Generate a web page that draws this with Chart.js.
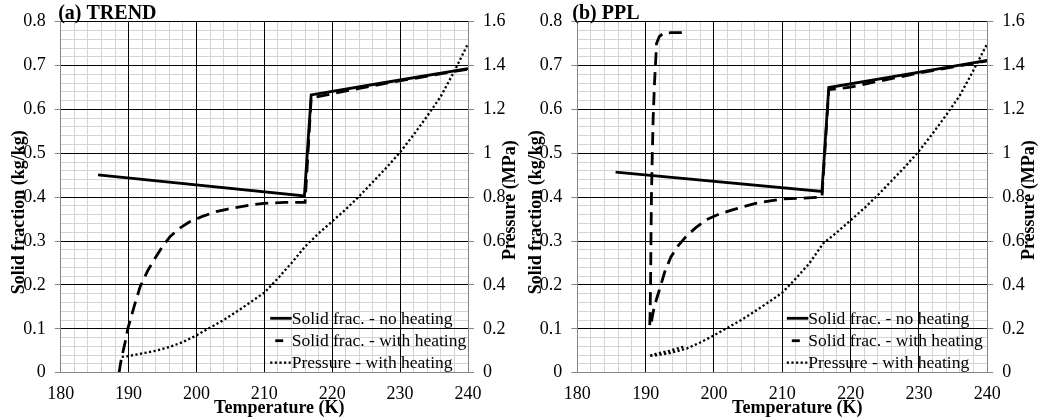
<!DOCTYPE html>
<html>
<head>
<meta charset="utf-8">
<script src="https://cdn.jsdelivr.net/npm/chart.js@4.4.1/dist/chart.umd.min.js"></script>
<style>
  html, body { margin: 0; padding: 0; background: #fff; }
  .panel { position: absolute; top: 0; height: 420px; }
  #panelA { left: 0; width: 519px; }
  #panelB { left: 519px; width: 520px; }
</style>
</head>
<body>
<div class="panel" id="panelA"><canvas id="chartA"></canvas></div>
<div class="panel" id="panelB"><canvas id="chartB"></canvas></div>
<script>
// Solid fraction / pressure vs temperature, two panels (TREND, PPL)
const seriesLabels = ['Solid frac. - no heating', 'Solid frac. - with heating', 'Pressure - with heating'];
const fracTicks = [0, 0.1, 0.2, 0.3, 0.4, 0.5, 0.6, 0.7, 0.8];
const pressTicks = [0, 0.2, 0.4, 0.6, 0.8, 1, 1.2, 1.4, 1.6];
const tempTicks = [180, 190, 200, 210, 220, 230, 240];

// (a) TREND
const trendNoHeatT = [185.5, 215.9, 216.9, 228, 240];
const trendNoHeatFrac = [0.451, 0.403, 0.633, 0.662, 0.693];
const trendHeatT = [188.6, 188.8, 189.0, 189.5, 189.9, 190.8, 191.7, 192.8, 193.9, 195.0, 196.1, 197.5, 199.0,
  201.0, 202.9, 204.6, 206.4, 208.0, 209.9, 213.0, 216.0, 216.9, 220, 224, 228, 240];
const trendHeatFrac = [0.0, 0.02, 0.036, 0.07, 0.101, 0.15, 0.196, 0.232, 0.261, 0.288, 0.31, 0.329, 0.344,
  0.357, 0.367, 0.373, 0.378, 0.382, 0.386, 0.388, 0.388, 0.626, 0.636, 0.648, 0.660, 0.692];
const trendPressT = [189, 190, 192, 194, 196, 198, 200, 202, 204, 206, 208, 210, 212, 214, 216, 218, 220,
  222, 224, 226, 228, 230, 232, 234, 236, 238, 240];
const trendPressMPa = [0.072, 0.076, 0.088, 0.100, 0.117, 0.140, 0.170, 0.205, 0.240, 0.280, 0.322, 0.365,
  0.43, 0.50, 0.575, 0.635, 0.69, 0.745, 0.805, 0.87, 0.935, 1.005, 1.085, 1.17, 1.26, 1.375, 1.50];

// (b) PPL
const pplNoHeatT = [185.6, 215.8, 216.8, 229, 240];
const pplNoHeatFrac = [0.457, 0.413, 0.650, 0.682, 0.712];
const pplHeatT = [195.3, 193.8, 192.6, 192.0, 191.6, 191.5, 191.3, 191.1, 190.95, 190.85, 190.78, 190.72,
  190.65, 190.6, 190.75, 190.95, 191.2, 191.6, 192.0, 192.8, 193.7, 194.8, 195.9, 197.3, 198.8, 200.7,
  202.7, 204.4, 206.1, 208.0, 210.0, 213.0, 215.8, 216.8, 220, 224, 229, 240];
const pplHeatFrac = [0.775, 0.775, 0.774, 0.766, 0.751, 0.72, 0.66, 0.58, 0.48, 0.40, 0.30, 0.20,
  0.13, 0.108, 0.105, 0.125, 0.145, 0.168, 0.188, 0.23, 0.264, 0.29, 0.31, 0.33, 0.348, 0.361,
  0.371, 0.379, 0.386, 0.391, 0.396, 0.398, 0.400, 0.645, 0.651, 0.664, 0.680, 0.711];
const pplPressT = [195.5, 193.5, 191.5, 190.5, 191.5, 193.5, 196, 198, 200, 202, 204, 206, 208, 210, 212,
  214, 216, 218, 220, 222, 224, 226, 228, 230, 232, 234, 236, 238, 240];
const pplPressMPa = [0.118, 0.100, 0.086, 0.076, 0.079, 0.089, 0.110, 0.138, 0.170, 0.205, 0.240, 0.280,
  0.322, 0.365, 0.43, 0.50, 0.59, 0.64, 0.695, 0.75, 0.81, 0.875, 0.94, 1.01, 1.09, 1.175, 1.265, 1.38, 1.50];

const SERIF = '"Liberation Serif", "Times New Roman", serif';
const AXIS_GRAY = '#868686';
const MINOR_GRAY = '#d4d4d4';

function points(xs, ys) {
  return xs.map((x, i) => ({ x: x, y: ys[i] }));
}

function isOnList(v, list) {
  return list.some((t) => Math.abs(t - v) < 1e-6);
}

function fmt(v) {
  return String(+v.toFixed(1));
}

const lineStyles = [
  { borderWidth: 2.8, borderDash: [] },
  { borderWidth: 2.8, borderDash: [13, 7] },
  { borderWidth: 2.3, borderDash: [2.2, 2.4] }
];

// axis titles, panel label and legend drawn inside the plot
const decor = {
  id: 'decor',
  afterDraw(chart, args, opts) {
    const { ctx, chartArea: a } = chart;
    const cx = (a.left + a.right) / 2;
    const cy = (a.top + a.bottom) / 2;
    ctx.save();
    ctx.fillStyle = '#000';
    ctx.textBaseline = 'alphabetic';

    ctx.font = 'bold 20px ' + SERIF;
    ctx.textAlign = 'left';
    ctx.fillText(opts.panel, a.left + opts.panelDx, 19);

    ctx.font = 'bold 18px ' + SERIF;
    ctx.textAlign = 'center';
    ctx.fillText('Temperature (K)', cx + 15, 413);

    ctx.save();
    ctx.translate(a.left - 36.5, cy + 15);
    ctx.rotate(-Math.PI / 2);
    ctx.fillText('Solid fraction (kg/kg)', 0, 0);
    ctx.restore();

    ctx.save();
    ctx.translate(a.right + 47, cy + 3);
    ctx.rotate(-Math.PI / 2);
    ctx.fillText('Pressure (MPa)', 0, 0);
    ctx.restore();

    // legend
    const rows = [54.4, 32, 10];
    const samples = [[209.5, 231], [214.5, 222.5], [209.5, 230]];
    ctx.font = '17.5px ' + SERIF;
    ctx.textAlign = 'left';
    seriesLabels.forEach((label, i) => {
      const y = a.bottom - rows[i];
      ctx.save();
      ctx.strokeStyle = '#000';
      ctx.lineWidth = lineStyles[i].borderWidth;
      ctx.setLineDash(lineStyles[i].borderDash);
      ctx.beginPath();
      ctx.moveTo(a.left + samples[i][0], y);
      ctx.lineTo(a.left + samples[i][1], y);
      ctx.stroke();
      ctx.restore();
      ctx.fillText(label, a.left + 231, y + 5.5);
    });
    ctx.restore();
  }
};

function makePanel(canvasId, panel, opts) {
  const sets = [
    { data: points(opts.noHeatT, opts.noHeatFrac), yAxisID: 'y' },
    { data: points(opts.heatT, opts.heatFrac), yAxisID: 'y' },
    { data: points(opts.pressT, opts.pressMPa), yAxisID: 'y2' }
  ].map((d, i) => Object.assign(d, {
    label: seriesLabels[i],
    xAxisID: 'x',
    borderColor: '#000',
    backgroundColor: '#000',
    borderWidth: lineStyles[i].borderWidth,
    borderDash: lineStyles[i].borderDash,
    borderCapStyle: 'butt',
    pointRadius: 0,
    tension: 0,
    fill: false
  }));

  const tickFont = { family: SERIF, size: 18 };

  return new Chart(document.getElementById(canvasId), {
    type: 'line',
    data: { datasets: sets },
    plugins: [decor],
    options: {
      responsive: true,
      maintainAspectRatio: false,
      animation: false,
      layout: { padding: { top: 21.7, left: 0, right: 0, bottom: 0 } },
      plugins: {
        legend: { display: false },
        tooltip: { enabled: false },
        decor: { panel: panel, panelDx: opts.panelDx }
      },
      scales: {
        // light minor grid, drawn first so the major lines stay on top
        xMinor: {
          type: 'linear',
          position: 'bottom',
          min: 180,
          max: 240,
          afterFit: (s) => { s.height = 0; },
          ticks: { display: false, stepSize: 2, autoSkip: false },
          grid: { z: -1, color: MINOR_GRAY, drawTicks: false },
          border: { display: false }
        },
        yMinor: {
          type: 'linear',
          position: 'left',
          min: 0,
          max: 0.8,
          afterFit: (s) => { s.width = 0; },
          ticks: { display: false, stepSize: 0.02, autoSkip: false },
          grid: { z: -1, color: MINOR_GRAY, drawTicks: false },
          border: { display: false }
        },
        x: {
          type: 'linear',
          position: 'bottom',
          min: 180,
          max: 240,
          afterFit: (s) => { s.height = 47.3; },
          ticks: {
            stepSize: 10,
            autoSkip: false,
            maxRotation: 0,
            minRotation: 0,
            padding: 11,
            color: '#000',
            font: tickFont,
            callback: (v) => (isOnList(v, tempTicks) ? String(v) : '')
          },
          grid: { drawTicks: false, color: '#000' },
          border: { color: AXIS_GRAY, width: 1, z: 1 }
        },
        y: {
          type: 'linear',
          position: 'left',
          min: 0,
          max: 0.8,
          afterFit: (s) => { s.width = opts.yWidth; },
          ticks: {
            stepSize: 0.1,
            autoSkip: false,
            padding: 9,
            color: '#000',
            font: tickFont,
            callback: (v) => (isOnList(v, fracTicks) ? fmt(v) : '')
          },
          grid: { tickLength: 6, color: '#000', tickColor: AXIS_GRAY },
          border: { color: AXIS_GRAY, width: 1, z: 1 }
        },
        y2: {
          type: 'linear',
          position: 'right',
          min: 0,
          max: 1.6,
          afterFit: (s) => { s.width = opts.y2Width; },
          ticks: {
            stepSize: 0.2,
            autoSkip: false,
            padding: 9,
            color: '#000',
            font: tickFont,
            callback: (v) => (isOnList(v, pressTicks) ? fmt(v) : '')
          },
          grid: { drawOnChartArea: false, tickLength: 6, tickColor: AXIS_GRAY },
          border: { color: AXIS_GRAY, width: 1, z: 1 }
        }
      }
    }
  });
}

makePanel('chartA', '(a) TREND', {
  noHeatT: trendNoHeatT, noHeatFrac: trendNoHeatFrac,
  heatT: trendHeatT, heatFrac: trendHeatFrac,
  pressT: trendPressT, pressMPa: trendPressMPa,
  yWidth: 60.7, y2Width: 51, panelDx: -2.5
});

makePanel('chartB', '(b) PPL', {
  noHeatT: pplNoHeatT, noHeatFrac: pplNoHeatFrac,
  heatT: pplHeatT, heatFrac: pplHeatFrac,
  pressT: pplPressT, pressMPa: pplPressMPa,
  yWidth: 58.3, y2Width: 51.7, panelDx: -5
});
</script>
</body>
</html>
